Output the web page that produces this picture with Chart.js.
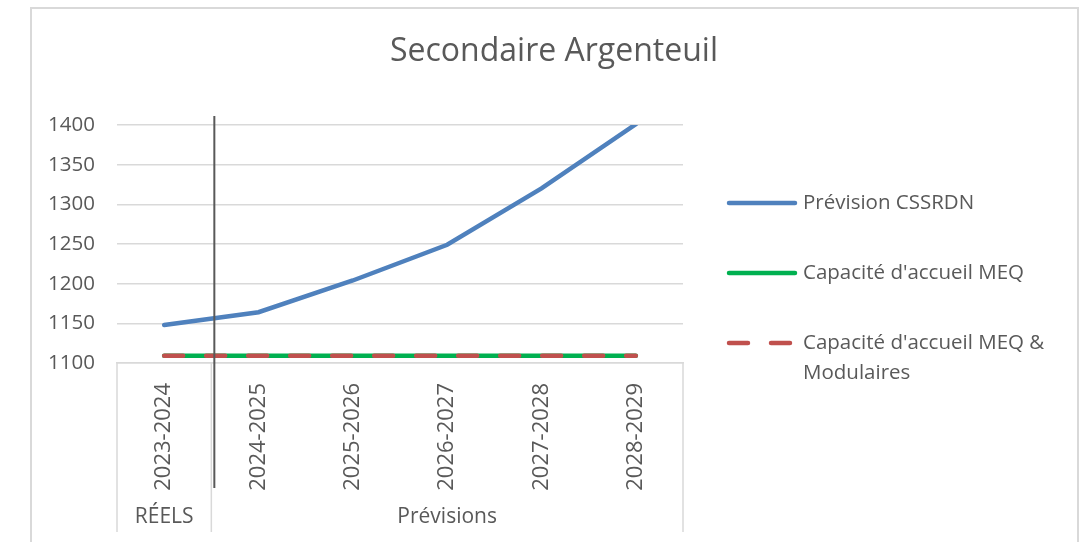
<!DOCTYPE html>
<html lang="fr">
<head>
<meta charset="utf-8">
<title>Secondaire Argenteuil</title>
<script src="https://cdn.jsdelivr.net/npm/chart.js@4.4.1/dist/chart.umd.min.js"></script>
<style>
  html, body { margin: 0; padding: 0; background: #fff; }
  #wrap { width: 1090px; height: 542px; }
</style>
</head>
<body>
<div id="wrap"><canvas id="chart" width="1090" height="542"></canvas></div>
<script>
const chartTitle = 'Secondaire Argenteuil';
const categories = ['2023-2024', '2024-2025', '2025-2026', '2026-2027', '2027-2028', '2028-2029'];
const previsionCssrdn = [1148, 1164, 1204, 1249, 1320, 1401];
const capaciteMeq = [1109, 1109, 1109, 1109, 1109, 1109];
const capaciteMeqModulaires = [1109, 1109, 1109, 1109, 1109, 1109];
const groupLabels = ['RÉELS', 'Prévisions'];
const groupSizes = [1, 5];
const yMin = 1100;
const yMax = 1400;
const yStep = 50;

const TEXT = '#595959';
const LIGHT = '#D9D9D9';
const FONT = "'Open Sans', 'Liberation Sans', sans-serif";

// frame, title, two-level category box, divider and legend
const decorations = {
    id: 'decorations',
    beforeDraw(chart) {
        const ctx = chart.ctx;
        ctx.save();
        ctx.strokeStyle = LIGHT;
        ctx.lineWidth = 2;
        ctx.strokeRect(31, 8, 1047, 600);

        ctx.fillStyle = TEXT;
        ctx.font = '32px ' + FONT;
        ctx.textAlign = 'center';
        ctx.textBaseline = 'middle';
        ctx.fillText(chartTitle, 554, 52);
        ctx.restore();
    },
    afterDraw(chart) {
        const ctx = chart.ctx;
        const area = chart.chartArea;
        const x = chart.scales.x;
        const step = (area.right - area.left) / categories.length;
        const boxBottom = 532;

        ctx.save();
        // category box lines
        ctx.strokeStyle = LIGHT;
        ctx.lineWidth = 1.5;
        let edge = area.left;
        const edges = [edge];
        groupSizes.forEach(n => { edge += n * step; edges.push(edge); });
        edges.forEach(px => {
            ctx.beginPath();
            ctx.moveTo(px, area.bottom);
            ctx.lineTo(px, boxBottom);
            ctx.stroke();
        });

        // group labels
        ctx.fillStyle = TEXT;
        ctx.font = '21px ' + FONT;
        ctx.textAlign = 'center';
        ctx.textBaseline = 'middle';
        groupLabels.forEach((g, i) => {
            ctx.fillText(g, (edges[i] + edges[i + 1]) / 2, 517);
        });

        // divider between actuals and forecasts
        const dx = (x.getPixelForValue(0) + x.getPixelForValue(1)) / 2 + 3;
        ctx.strokeStyle = '#595959';
        ctx.lineWidth = 2;
        ctx.beginPath();
        ctx.moveTo(dx, area.top - 9);
        ctx.lineTo(dx, 488);
        ctx.stroke();

        // legend
        const rows = [203, 273, 343];
        ctx.font = '20.5px ' + FONT;
        ctx.textAlign = 'left';
        chart.data.datasets.forEach((ds, i) => {
            const y = rows[i];
            ctx.strokeStyle = ds.borderColor;
            ctx.lineWidth = ds.borderWidth;
            ctx.lineCap = 'round';
            ctx.setLineDash(ds.borderDash || []);
            ctx.beginPath();
            ctx.moveTo(729, y);
            ctx.lineTo(795, y);
            ctx.stroke();
            ctx.setLineDash([]);
            ctx.fillStyle = TEXT;
            ds.label.split('\n').forEach((line, j) => {
                ctx.fillText(line, 803, y + j * 30);
            });
        });
        ctx.restore();
    }
};

new Chart(document.getElementById('chart'), {
    type: 'line',
    data: {
        labels: categories,
        datasets: [
            {
                label: 'Prévision CSSRDN',
                data: previsionCssrdn,
                borderColor: '#4F81BD',
                borderWidth: 4.5,
                order: 0
            },
            {
                label: "Capacité d'accueil MEQ",
                data: capaciteMeq,
                borderColor: '#00B050',
                borderWidth: 4.5,
                order: 2
            },
            {
                label: "Capacité d'accueil MEQ &\nModulaires",
                data: capaciteMeqModulaires,
                borderColor: '#C0504D',
                borderWidth: 4.5,
                borderDash: [19, 23],
                order: 1
            }
        ]
    },
    options: {
        responsive: false,
        animation: false,
        layout: { padding: { left: 30, right: 407, top: 125, bottom: 0 } },
        elements: {
            point: { radius: 0 },
            line: { tension: 0, borderCapStyle: 'round', fill: false }
        },
        plugins: {
            legend: { display: false },
            title: { display: false },
            tooltip: { enabled: false }
        },
        scales: {
            x: {
                offset: true,
                grid: { display: false, drawTicks: false },
                border: { color: LIGHT, width: 1.5 },
                ticks: {
                    color: TEXT,
                    font: { family: FONT, size: 22 },
                    minRotation: 90,
                    maxRotation: 90,
                    padding: 20
                },
                afterFit(scale) { scale.height = 179; }
            },
            y: {
                min: yMin,
                max: yMax,
                grid: { color: LIGHT, lineWidth: 1.5, drawTicks: false },
                border: { display: false },
                ticks: {
                    stepSize: yStep,
                    color: TEXT,
                    font: { family: FONT, size: 20.5 },
                    padding: 22,
                    callback: v => String(v)
                },
                afterFit(scale) { scale.width = 87; }
            }
        }
    },
    plugins: [decorations]
});
</script>
</body>
</html>
